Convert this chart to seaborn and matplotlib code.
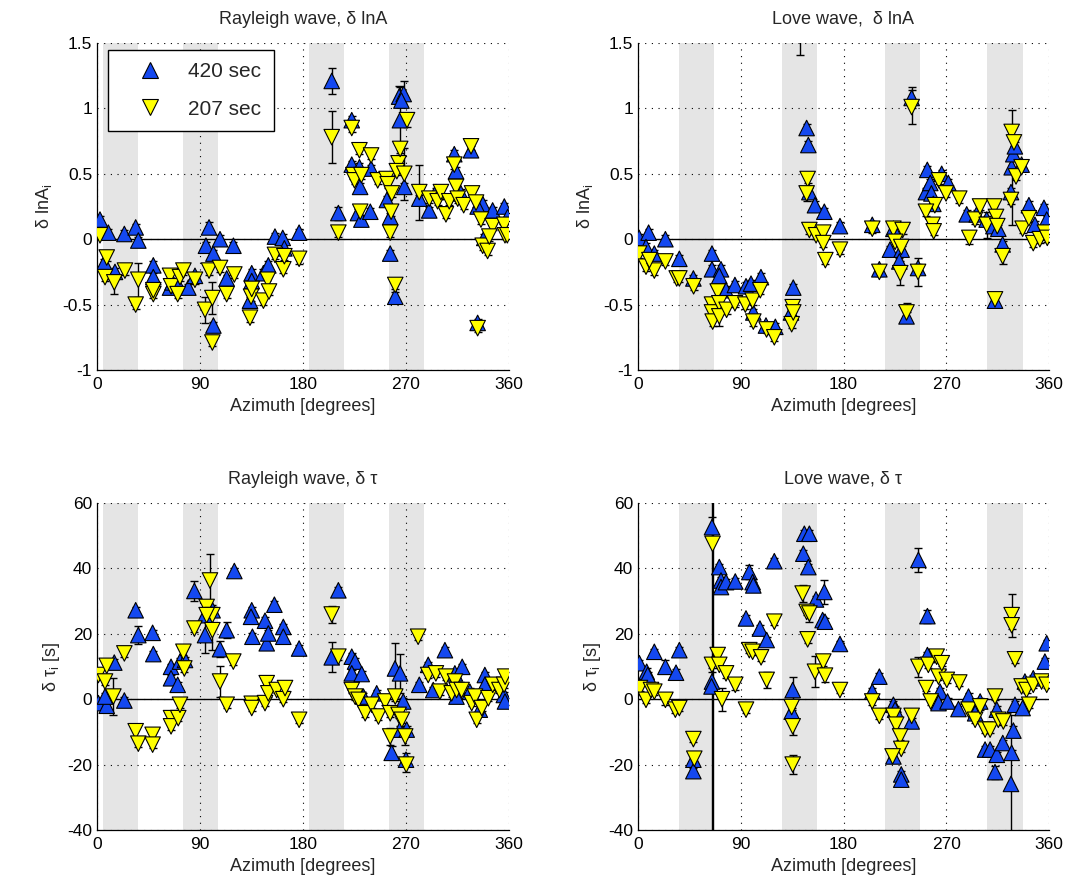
import numpy as np
import pandas as pd
import matplotlib
matplotlib.use("Agg")
import matplotlib.pyplot as plt
from matplotlib.lines import Line2D
import seaborn as sns

# ---------------- data (azimuth [deg], value, error) ----------------
rayleigh_bands = [(5, 36), (75, 106), (185, 216), (255, 286)]
love_bands = [(36, 67), (126, 157), (216, 247), (306, 337)]

periods = ["420 sec", "207 sec"]
xticks = [0, 90, 180, 270, 360]
lnA_ticks = [-1, -0.5, 0, 0.5, 1, 1.5]
lnA_ticklabels = ["-1", "-0.5", "0", "0.5", "1", "1.5"]
tau_ticks = [-40, -20, 0, 20, 40, 60]
tau_ticklabels = ["-40", "-20", "0", "20", "40", "60"]

rayleigh_lnA_420 = [
    (2.6, 0.15, 0.03), (9.9, 0.05, 0.03), (23.9, 0.04, 0.03), (33.8, 0.09, 0.03),
    (36.1, -0.01, 0.03), (6.4, -0.18, 0.03), (15.7, -0.25, 0.03), (49.2, -0.20, 0.03),
    (49.2, -0.29, 0.03), (63.8, -0.37, 0.03), (66.0, -0.33, 0.03), (71.0, -0.35, 0.03),
    (79.8, -0.37, 0.03), (85.6, -0.28, 0.03), (97.9, 0.09, 0.04), (95.2, -0.05, 0.03),
    (101.7, -0.11, 0.03), (107.5, 0.00, 0.03), (119.2, -0.05, 0.03), (113.3, -0.30, 0.03),
    (101.7, -0.66, 0.03), (135.2, -0.26, 0.03), (135.2, -0.32, 0.03), (133.7, -0.47, 0.03),
    (145.4, -0.26, 0.03), (149.7, -0.20, 0.03), (155.5, 0.02, 0.03), (162.3, 0.01, 0.03),
    (163.7, -0.07, 0.03), (176.6, 0.05, 0.03), (205.1, 1.21, 0.10), (210.9, 0.20, 0.05),
    (222.6, 0.91, 0.03), (222.6, 0.57, 0.03), (229.3, 0.55, 0.03), (229.9, 0.40, 0.03),
    (239.5, 0.54, 0.03), (228.0, 0.20, 0.03), (231.0, 0.15, 0.03), (238.8, 0.21, 0.03),
    (253.3, 0.30, 0.03), (256.2, 0.17, 0.03), (256.2, -0.11, 0.03), (260.6, -0.44, 0.04),
    (264.0, 1.09, 0.08), (268.0, 1.11, 0.10), (266.0, 1.06, 0.05), (264.7, 0.91, 0.25),
    (268.5, 0.40, 0.03), (281.6, 0.31, 0.03), (290.3, 0.22, 0.03), (296.2, 0.36, 0.03),
    (312.2, 0.65, 0.03), (313.7, 0.52, 0.03), (318.0, 0.35, 0.03), (326.8, 0.68, 0.03),
    (332.6, -0.64, 0.03), (337.0, 0.27, 0.03), (338.4, 0.01, 0.03), (345.7, 0.22, 0.03),
    (355.9, 0.25, 0.03), (358.8, 0.17, 0.03), (332.6, 0.25, 0.03),
]
rayleigh_lnA_207 = [
    (2.6, 0.03, 0.03), (8.5, -0.14, 0.03), (7.0, -0.29, 0.03), (15.1, -0.33, 0.09),
    (24.4, -0.24, 0.03), (36.1, -0.31, 0.13), (33.8, -0.50, 0.03), (49.2, -0.42, 0.03),
    (49.2, -0.39, 0.03), (63.8, -0.28, 0.03), (64.7, -0.36, 0.03), (70.5, -0.42, 0.03),
    (72.5, -0.29, 0.03), (75.5, -0.24, 0.03), (85.6, -0.31, 0.03), (94.4, -0.54, 0.10),
    (97.9, -0.24, 0.03), (100.8, -0.45, 0.12), (100.8, -0.79, 0.03), (107.5, -0.22, 0.03),
    (113.3, -0.42, 0.03), (120.0, -0.27, 0.03), (133.7, -0.60, 0.03), (134.6, -0.44, 0.03),
    (135.2, -0.38, 0.03), (145.4, -0.47, 0.03), (149.2, -0.31, 0.03), (150.3, -0.40, 0.03),
    (155.5, -0.12, 0.03), (162.8, -0.23, 0.03), (163.7, -0.13, 0.03), (176.6, -0.15, 0.04),
    (205.1, 0.78, 0.20), (210.9, 0.05, 0.03), (222.6, 0.85, 0.03), (229.3, 0.68, 0.03),
    (239.5, 0.64, 0.03), (224.0, 0.49, 0.03), (225.0, 0.45, 0.03), (231.0, 0.49, 0.03),
    (230.0, 0.21, 0.03), (245.3, 0.45, 0.03), (253.0, 0.46, 0.04), (254.0, 0.42, 0.03),
    (257.6, 0.35, 0.03), (257.0, 0.21, 0.03), (256.2, 0.05, 0.03), (260.6, -0.35, 0.03),
    (263.5, 0.58, 0.05), (264.9, 0.69, 0.05), (262.0, 0.52, 0.03), (268.5, 0.50, 0.20),
    (270.9, 0.91, 0.05), (281.6, 0.36, 0.21), (290.3, 0.31, 0.03), (297.6, 0.29, 0.03),
    (300.5, 0.36, 0.03), (304.9, 0.19, 0.03), (307.8, 0.29, 0.03), (312.2, 0.57, 0.03),
    (313.7, 0.40, 0.03), (315.2, 0.31, 0.03), (320.4, 0.26, 0.03), (326.8, 0.71, 0.03),
    (327.7, 0.35, 0.03), (331.2, 0.28, 0.03), (332.6, -0.68, 0.03), (335.5, 0.15, 0.03),
    (337.0, -0.05, 0.03), (341.3, -0.09, 0.03), (345.7, 0.10, 0.03), (342.8, 0.02, 0.03),
    (355.9, 0.11, 0.03), (356.5, 0.03, 0.03), (358.5, 0.03, 0.03),
]

love_lnA_420 = [
    (1.0, 0.01, 0.03), (9.3, 0.05, 0.03), (7.0, -0.06, 0.03), (14.3, -0.11, 0.03),
    (24.0, 0.00, 0.03), (36.2, -0.15, 0.03), (48.5, -0.30, 0.03), (64.8, -0.11, 0.03),
    (64.8, -0.23, 0.03), (72.7, -0.23, 0.03), (71.2, -0.28, 0.03), (77.1, -0.39, 0.03),
    (84.9, -0.35, 0.03), (94.6, -0.36, 0.03), (99.0, -0.34, 0.03), (107.7, -0.29, 0.03),
    (101.0, -0.56, 0.03), (112.1, -0.66, 0.03), (120.3, -0.67, 0.03), (136.0, -0.37, 0.03),
    (134.0, -0.56, 0.03), (141.7, 1.70, 0.29), (147.7, 0.85, 0.03), (149.2, 0.72, 0.03),
    (150.1, 0.36, 0.03), (155.0, 0.26, 0.03), (163.2, 0.21, 0.03), (176.9, 0.10, 0.03),
    (205.2, 0.11, 0.03), (211.4, -0.23, 0.03), (223.7, 0.08, 0.03), (220.7, -0.08, 0.03),
    (230.9, -0.08, 0.03), (228.9, -0.17, 0.03), (245.3, -0.22, 0.03), (235.2, -0.59, 0.03),
    (239.7, 1.08, 0.08), (253.4, 0.53, 0.03), (252.2, 0.36, 0.03), (256.0, 0.43, 0.03),
    (257.0, 0.35, 0.03), (266.0, 0.50, 0.03), (271.8, 0.43, 0.03), (258.7, 0.27, 0.03),
    (287.9, 0.19, 0.03), (296.7, 0.19, 0.03), (305.4, 0.15, 0.03), (311.3, 0.10, 0.03),
    (315.6, 0.08, 0.03), (312.7, -0.47, 0.03), (319.4, -0.04, 0.03), (326.7, 0.36, 0.03),
    (327.3, 0.55, 0.44), (328.7, 0.65, 0.03), (330.1, 0.71, 0.03), (336.0, 0.57, 0.03),
    (342.4, 0.26, 0.03), (347.7, 0.11, 0.03), (355.6, 0.24, 0.03), (358.0, 0.15, 0.03),
    (355.0, 0.05, 0.03),
]
love_lnA_207 = [
    (1.0, -0.11, 0.03), (7.0, -0.21, 0.03), (14.3, -0.24, 0.03), (10.0, -0.16, 0.03),
    (24.0, -0.17, 0.03), (33.9, -0.30, 0.03), (36.2, -0.30, 0.03), (48.7, -0.36, 0.03),
    (64.8, -0.50, 0.03), (64.8, -0.56, 0.03), (65.4, -0.63, 0.03), (69.8, -0.40, 0.03),
    (71.2, -0.49, 0.03), (71.2, -0.59, 0.07), (77.6, -0.54, 0.03), (84.9, -0.49, 0.03),
    (94.0, -0.50, 0.03), (100.4, -0.47, 0.03), (101.0, -0.63, 0.03), (107.1, -0.39, 0.03),
    (112.6, -0.69, 0.03), (119.4, -0.75, 0.03), (134.6, -0.65, 0.03), (135.5, -0.52, 0.03),
    (136.0, -0.56, 0.03), (148.6, 0.46, 0.03), (147.7, 0.35, 0.06), (150.1, 0.07, 0.03),
    (156.0, 0.03, 0.03), (162.3, 0.05, 0.03), (162.3, -0.03, 0.03), (164.1, -0.16, 0.03),
    (176.9, -0.08, 0.03), (205.2, 0.08, 0.03), (211.4, -0.25, 0.03), (223.7, 0.08, 0.03),
    (231.8, 0.07, 0.03), (225.2, -0.02, 0.03), (230.6, -0.06, 0.03), (229.7, -0.26, 0.09),
    (245.3, -0.25, 0.11), (235.2, -0.56, 0.07), (239.7, 1.01, 0.13), (263.6, 0.45, 0.03),
    (269.8, 0.35, 0.03), (260.0, 0.26, 0.03), (252.2, 0.21, 0.03), (258.0, 0.11, 0.03),
    (259.0, 0.06, 0.03), (281.4, 0.31, 0.03), (290.2, 0.01, 0.05), (295.2, 0.15, 0.03),
    (299.6, 0.25, 0.03), (305.4, 0.11, 0.10), (312.1, 0.25, 0.03), (313.6, 0.17, 0.03),
    (314.7, 0.10, 0.03), (312.7, -0.46, 0.03), (319.4, -0.13, 0.06), (326.7, 0.30, 0.03),
    (327.3, 0.82, 0.03), (329.3, 0.74, 0.03), (331.1, 0.48, 0.03), (336.0, 0.55, 0.03),
    (336.9, 0.08, 0.03), (342.4, 0.16, 0.03), (346.2, -0.03, 0.03), (352.0, 0.00, 0.03),
    (356.4, 0.05, 0.03), (358.5, 0.01, 0.03),
]

rayleigh_tau_420 = [
    (1.2, -1.2, 1.0), (8.5, -2.0, 1.0), (7.0, 0.8, 1.0), (23.9, -0.4, 1.0),
    (15.1, 11.2, 1.0), (33.8, 27.2, 1.0), (36.1, 19.6, 2.7), (48.6, 20.3, 1.0),
    (49.2, 13.8, 1.0), (64.7, 9.9, 1.0), (64.7, 6.4, 1.0), (70.5, 4.4, 1.0),
    (72.5, 11.5, 1.0), (76.9, 12.0, 1.0), (85.1, 33.1, 3.0), (94.4, 19.6, 5.6),
    (94.4, 25.7, 1.0), (101.0, 27.2, 1.0), (107.5, 15.3, 2.5), (113.3, 21.1, 2.5),
    (120.0, 39.2, 1.0), (135.2, 27.2, 1.0), (134.6, 25.2, 1.0), (135.8, 19.1, 1.0),
    (146.8, 24.0, 1.0), (148.3, 17.1, 1.0), (149.7, 20.1, 1.0), (155.0, 28.9, 1.0),
    (162.8, 22.1, 1.0), (162.8, 19.1, 1.0), (176.6, 15.5, 1.0),
    (205.1, 12.8, 4.6), (210.9, 33.3, 1.0), (222.6, 13.0, 1.0), (225.5, 11.5, 1.0),
    (222.6, 7.9, 1.0), (231.3, 7.7, 1.0), (232.8, 0.8, 1.0), (244.4, 1.8, 1.0),
    (260.4, 9.4, 7.7), (264.8, 7.9, 6.0), (257.5, -16.4, 2.0), (270.0, -18.5, 2.0),
    (267.6, -0.7, 1.0), (264.8, -9.3, 1.0), (270.6, -9.3, 1.0), (281.6, 4.4, 1.0),
    (289.4, 10.5, 1.0), (293.8, 2.8, 1.0), (304.0, 15.0, 1.0), (312.7, 7.9, 1.0),
    (319.1, 9.9, 1.0), (314.1, 0.8, 1.0), (325.8, 2.3, 1.0), (338.9, 7.4, 1.0),
    (338.9, 4.4, 1.0), (334.5, -3.2, 1.0), (355.5, 1.3, 1.0), (356.5, -0.7, 1.0),
]
rayleigh_tau_207 = [
    (1.2, 7.4, 1.0), (8.5, 10.2, 1.0), (7.0, 5.4, 1.0), (14.3, 0.8, 5.7),
    (23.9, 14.0, 1.0), (33.8, -9.8, 2.0), (36.1, -13.6, 1.0), (48.6, -10.9, 1.5),
    (48.6, -13.9, 1.0), (64.7, -5.8, 1.0), (64.7, -8.3, 1.0), (71.0, -5.8, 1.0),
    (72.5, -1.7, 1.0), (75.5, 14.5, 1.0), (76.3, 9.4, 1.0), (85.1, 21.6, 1.0),
    (98.7, 36.3, 8.0), (95.8, 28.2, 1.0), (100.8, 25.7, 3.0), (95.8, 25.7, 1.0),
    (100.8, 21.1, 6.0), (107.5, 5.4, 4.8), (113.3, -1.7, 1.0), (119.1, 11.5, 1.0),
    (135.2, -1.4, 1.0), (135.2, -2.7, 1.0), (148.3, 4.9, 1.0), (146.8, -1.2, 1.0),
    (149.7, 1.8, 1.0), (157.0, 2.8, 1.0), (162.8, 0.0, 1.0), (164.3, 3.4, 1.0),
    (176.6, -6.3, 1.0),
    (205.1, 25.9, 2.5), (210.9, 13.0, 1.0), (222.6, 2.8, 1.0), (225.5, 0.8, 1.0),
    (228.5, -0.2, 1.0), (234.3, -4.3, 1.0), (240.1, -1.7, 1.0), (245.9, -5.3, 1.0),
    (251.8, -0.7, 1.0), (256.2, -4.3, 1.0), (256.2, -11.4, 2.5), (260.6, 0.8, 1.5),
    (263.5, -4.8, 1.0), (266.4, -6.3, 1.0), (269.3, -11.4, 2.5), (270.2, -20.0, 2.3),
    (280.6, 19.1, 1.0), (289.4, 7.4, 1.0), (296.1, 7.9, 1.0), (299.6, 2.3, 1.0),
    (304.9, 6.9, 1.0), (309.9, 1.8, 1.0), (312.8, 5.4, 1.0), (314.2, 2.8, 1.0),
    (318.6, 2.8, 1.0), (327.4, -1.2, 1.0), (330.3, 0.8, 1.0), (331.8, -6.3, 1.0),
    (336.2, -2.7, 1.0), (342.0, 0.3, 1.0), (345.8, 4.4, 1.0), (351.6, 2.8, 1.0),
    (355.7, 4.4, 1.0), (356.6, 6.9, 1.5),
]

love_tau_420 = [
    (1.2, 11.0, 1.0), (7.6, 8.4, 1.0), (8.5, 7.4, 1.0), (14.3, 14.5, 1.0),
    (24.0, 9.9, 2.0), (33.3, 8.1, 1.0), (36.2, 15.0, 1.0), (48.5, -18.5, 1.0),
    (48.5, -22.0, 1.0), (64.8, 52.6, 3.0), (64.8, 5.4, 3.0), (64.4, 3.9, 100.0),
    (71.2, 40.4, 1.0), (72.7, 36.3, 1.0), (72.7, 34.3, 1.5), (77.1, 35.8, 1.0),
    (85.2, 36.0, 1.0), (97.5, 38.9, 2.0), (100.4, 35.8, 1.0), (101.0, 34.8, 1.0),
    (94.6, 24.7, 1.0), (106.8, 21.6, 1.0), (112.7, 18.1, 1.0), (119.4, 42.2, 1.0),
    (135.5, 2.8, 4.0), (134.6, -3.8, 1.0), (145.7, 50.6, 1.0), (150.1, 50.6, 1.0),
    (144.8, 44.5, 1.0), (149.2, 40.4, 1.0), (155.9, 30.5, 1.0), (163.2, 32.8, 3.8),
    (161.7, 24.2, 1.0), (163.8, 23.7, 1.0), (176.9, 16.9, 1.0),
    (205.2, 2.3, 1.0), (211.4, 6.9, 1.0), (223.7, -1.7, 1.0), (225.2, -3.2, 1.0),
    (223.7, -17.5, 1.0), (230.6, -23.0, 1.0), (230.6, -24.6, 1.0), (239.7, -6.8, 1.0),
    (245.6, 42.6, 3.6), (253.5, 25.4, 2.0), (253.5, 13.5, 1.0), (264.6, 2.3, 1.0),
    (263.2, -1.2, 1.0), (271.1, -0.7, 1.0), (280.7, -3.0, 1.0), (289.5, 0.8, 1.0),
    (299.7, -0.7, 1.0), (295.3, -4.3, 1.0), (304.0, -15.4, 1.0), (308.4, -15.4, 1.0),
    (314.3, -17.0, 1.0), (319.5, -13.4, 1.0), (312.7, -22.3, 2.0), (314.3, -3.2, 1.0),
    (327.3, -16.4, 1.0), (328.8, -9.6, 1.5), (326.7, -25.9, 21.0), (330.2, -1.7, 1.0),
    (336.9, -2.7, 1.0), (338.9, 5.4, 1.0), (346.2, 6.4, 1.0), (356.4, 11.5, 1.0),
    (358.0, 17.1, 1.0),
]
love_tau_207 = [
    (1.7, 3.4, 1.0), (7.0, -0.2, 1.0), (11.4, 2.8, 1.0), (14.3, 2.3, 1.0),
    (24.0, -0.2, 1.5), (32.7, -3.2, 1.0), (36.2, -2.7, 1.0), (48.5, -12.2, 1.0),
    (49.3, -18.2, 1.0), (65.3, 47.5, 100.0), (64.8, 10.5, 1.0), (69.8, 13.5, 2.0),
    (71.2, 10.5, 1.0), (77.1, 7.9, 1.5), (85.2, 4.4, 1.5), (73.6, 0.0, 3.5),
    (94.6, -3.2, 1.0), (97.5, 15.0, 1.0), (100.4, 14.5, 1.0), (107.8, 12.8, 1.0),
    (112.7, 5.9, 2.5), (119.4, 23.7, 1.0), (134.6, -2.4, 1.0), (135.5, -8.3, 2.8),
    (135.5, -20.0, 2.8), (144.2, 32.3, 2.5), (147.7, 26.7, 1.0), (150.1, 26.2, 2.5),
    (148.6, 18.3, 1.0), (155.0, 8.4, 4.7), (162.3, 11.5, 1.5), (163.8, 7.2, 2.0),
    (176.9, 2.8, 1.0),
    (205.2, -0.7, 1.0), (211.4, -5.1, 1.0), (223.7, -5.1, 1.0), (226.1, -7.8, 1.0),
    (229.6, -11.4, 1.0), (230.6, -15.2, 1.0), (223.0, -17.5, 1.5), (239.7, -5.1, 2.0),
    (245.6, 9.9, 3.0), (252.3, 3.4, 1.0), (256.4, -0.7, 1.0), (254.3, 10.5, 1.0),
    (261.6, 13.0, 1.0), (263.2, 6.9, 1.0), (266.1, 11.0, 1.0), (270.5, 5.9, 1.0),
    (281.4, 5.1, 1.0), (289.5, -3.2, 1.0), (295.3, -6.3, 1.0), (299.7, -2.2, 1.0),
    (304.0, -9.3, 1.0), (308.4, -9.3, 1.0), (312.7, 0.8, 1.0), (315.6, -6.3, 1.0),
    (320.0, -6.8, 1.0), (327.3, 25.7, 6.6), (327.3, 22.6, 1.0), (330.2, 12.2, 1.0),
    (336.0, 3.9, 1.0), (340.3, 2.8, 1.0), (342.7, -1.7, 1.0), (346.2, 4.4, 1.0),
    (353.5, 5.4, 1.0), (358.0, 4.4, 1.0),
]

# ---------------- styling ----------------
sns.set_style("white")
plt.rcParams["font.family"] = ["Liberation Sans", "DejaVu Sans"]
plt.rcParams["mathtext.fontset"] = "custom"
plt.rcParams["mathtext.rm"] = "Liberation Sans"

BLUE = "#1448f0"
YELLOW = "#ffff00"
palette = {"420 sec": BLUE, "207 sec": YELLOW}
markers = {"420 sec": "^", "207 sec": "v"}
MARKER_S = 125

fig = plt.figure(figsize=(10.7, 8.88), dpi=100)

W, H = 1070.0, 888.0
panels = [
    dict(box=(97, 43, 509, 370), s420=rayleigh_lnA_420, s207=rayleigh_lnA_207,
         bands=rayleigh_bands, title="Rayleigh wave, δ lnA", kind="lnA", legend=True),
    dict(box=(638, 43, 1049, 370), s420=love_lnA_420, s207=love_lnA_207,
         bands=love_bands, title="Love wave,  δ lnA", kind="lnA", legend=False),
    dict(box=(97, 503, 509, 830), s420=rayleigh_tau_420, s207=rayleigh_tau_207,
         bands=rayleigh_bands, title="Rayleigh wave, δ τ", kind="tau", legend=False),
    dict(box=(638, 503, 1049, 830), s420=love_tau_420, s207=love_tau_207,
         bands=love_bands, title="Love wave, δ τ", kind="tau", legend=False),
]

for p in panels:
    l, t, r, b = p["box"]
    ax = fig.add_axes([l / W, 1 - b / H, (r - l) / W, (b - t) / H])

    for lo, hi in p["bands"]:
        ax.axvspan(lo, hi, color="#e5e5e5", lw=0, zorder=0)

    rows = []
    for per, series in zip(periods, [p["s420"], p["s207"]]):
        for az, v, e in series:
            rows.append({"az": az, "val": v, "err": e, "period": per})
    df = pd.DataFrame(rows)

    ax.axhline(0, color="black", lw=1.0, zorder=1.5)
    ax.errorbar(df["az"], df["val"], yerr=df["err"], fmt="none", ecolor="black",
                elinewidth=1.0, capsize=3.2, capthick=1.0, zorder=2)
    sns.scatterplot(data=df, x="az", y="val", hue="period", style="period",
                    palette=palette, markers=markers, hue_order=periods,
                    style_order=periods, s=MARKER_S, edgecolor="black", linewidth=0.8,
                    ax=ax, zorder=3, legend=False)

    ax.set_xlim(0, 360)
    ax.set_xticks(xticks)
    ax.set_xticklabels([str(x) for x in xticks])
    if p["kind"] == "lnA":
        ax.set_ylim(-1, 1.5)
        ax.set_yticks(lnA_ticks)
        ax.set_yticklabels(lnA_ticklabels)
        ax.set_ylabel(r"δ lnA$_\mathregular{i}$", fontsize=13, labelpad=6)
    else:
        ax.set_ylim(-40, 60)
        ax.set_yticks(tau_ticks)
        ax.set_yticklabels(tau_ticklabels)
        ax.set_ylabel(r"δ τ$_\mathregular{i}$ [s]", fontsize=13, labelpad=4)
    ax.set_xlabel("Azimuth [degrees]", fontsize=13, labelpad=4)
    ax.set_title(p["title"], fontsize=13, pad=14)

    ax.grid(True, color="black", linestyle=(0, (1, 5)), linewidth=0.8)
    ax.set_axisbelow(False)
    for gl in ax.get_xgridlines() + ax.get_ygridlines():
        gl.set_zorder(1)
    ax.spines["top"].set_visible(False)
    ax.spines["right"].set_visible(False)
    for sp in ("left", "bottom"):
        ax.spines[sp].set_color("black")
        ax.spines[sp].set_linewidth(0.9)
    ax.tick_params(direction="in", length=4, width=0.8, labelsize=12.5,
                   colors="black", top=False, right=False)
    ax.tick_params(axis="x", pad=5)

    if p["legend"]:
        handles = [Line2D([], [], linestyle="", marker=markers[per],
                          markersize=np.sqrt(MARKER_S), markerfacecolor=palette[per],
                          markeredgecolor="black", markeredgewidth=0.8)
                   for per in periods]
        leg = ax.legend(handles, periods, loc="upper left",
                        bbox_to_anchor=(0.027, 0.98), frameon=True, fancybox=False,
                        edgecolor="black", framealpha=1, fontsize=15,
                        handlelength=2.8, handletextpad=0.45, borderpad=0.6,
                        labelspacing=0.9, borderaxespad=0)
        leg.get_frame().set_linewidth(1.0)
        leg.set_zorder(5)

fig.savefig("out.png", dpi=100)
